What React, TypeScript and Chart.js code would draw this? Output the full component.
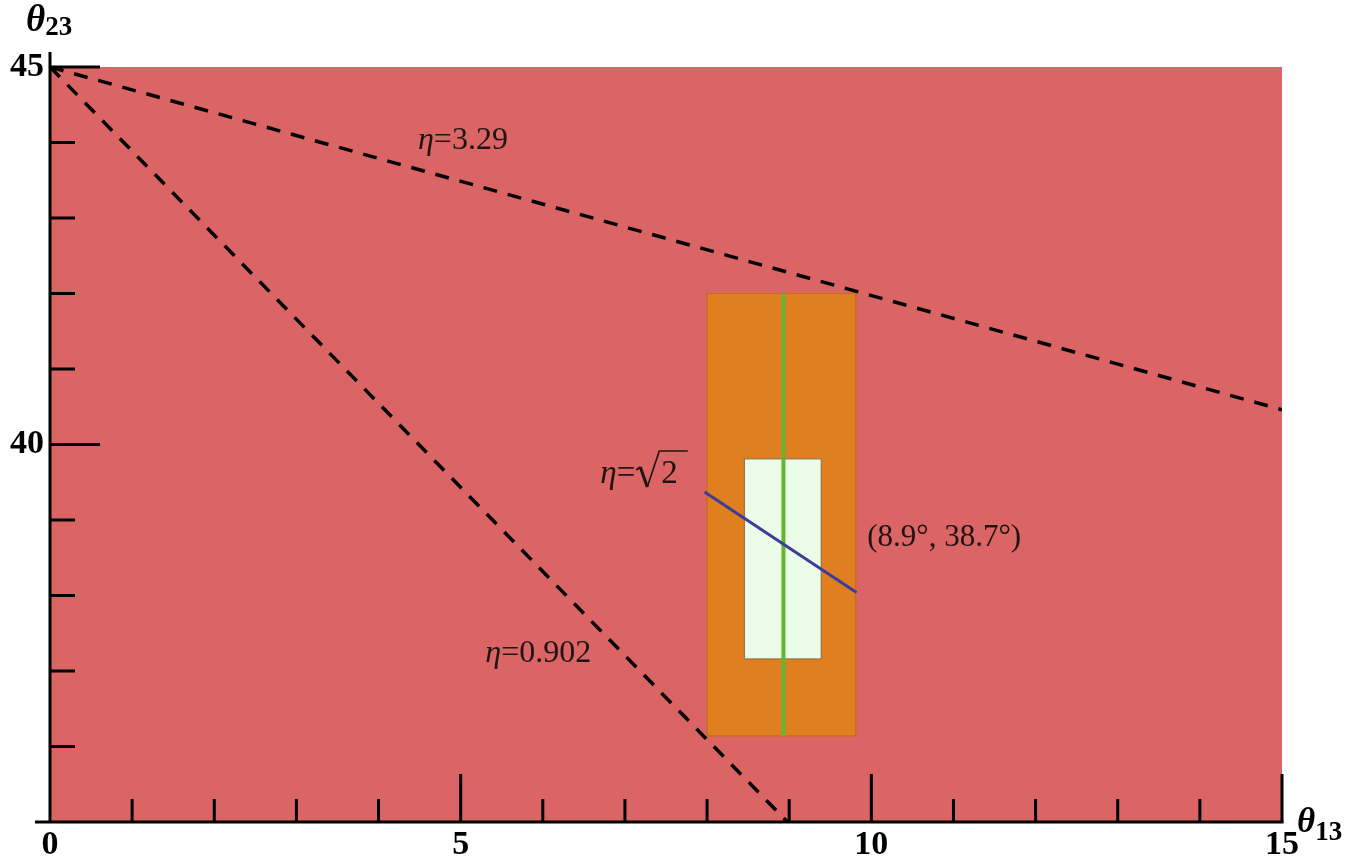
import { useEffect, useRef } from "react";
import { Chart, registerables } from "chart.js";

Chart.register(...registerables);

// ---- axis ranges and tick labels ----
const X_MIN = 0;
const X_MAX = 15;
const Y_MIN = 35;
const Y_MAX = 45;
const xTickLabels = [0, 5, 10, 15];
const yTickLabels = [45, 40];

// ---- data (theta13, theta23) in degrees ----
const eta329Line = [
  { x: 0, y: 45 },
  { x: 15, y: 40.46 },
];
const eta0902Line = [
  { x: 0, y: 45 },
  { x: 8.98, y: 35 },
];
const orangeRectX = [8.0, 9.81];
const orangeRectY = [36.14, 42.0];
const greenRectX = [8.455, 9.39];
const greenRectY = [37.16, 39.81];
const greenLineX = 8.93;
const greenLineY = [36.14, 42.0];
const blueLine = [
  { x: 7.97, y: 39.37 },
  { x: 9.82, y: 38.04 },
];
const bestFitLabel = "(8.9°, 38.7°)";

// annotation anchors (data coordinates, left/baseline)
const labelEta329 = { x: 4.48, y: 43.91, value: "3.29" };
const labelEta0902 = { x: 5.3, y: 37.12, value: "0.902" };
const labelEtaSqrt2 = { x: 6.7, y: 39.49, value: "2" };
const labelBestFit = { x: 9.95, y: 38.66 };

const SERIF = "'Liberation Serif', 'Times New Roman', serif";

function rectTop(xs: number[], ys: number[]) {
  return [
    { x: xs[0], y: ys[1] },
    { x: xs[1], y: ys[1] },
  ];
}
function rectOutline(xs: number[], ys: number[]) {
  return [
    { x: xs[0], y: ys[0] },
    { x: xs[0], y: ys[1] },
    { x: xs[1], y: ys[1] },
    { x: xs[1], y: ys[0] },
    { x: xs[0], y: ys[0] },
  ];
}

type Run = { text: string; font: string; dy?: number; dx?: number };
function drawRuns(ctx: CanvasRenderingContext2D, runs: Run[], x: number, y: number) {
  let cx = x;
  const ends: number[] = [];
  for (const r of runs) {
    cx += r.dx || 0;
    ctx.font = r.font;
    ctx.fillText(r.text, cx, y + (r.dy || 0));
    cx += ctx.measureText(r.text).width;
    ends.push(cx);
  }
  return ends;
}

const overlayPlugin = {
  id: "overlay",
  afterDraw(chart: any) {
    const { ctx, chartArea: a, scales } = chart;
    const xs = scales.x;
    const ys = scales.y;
    ctx.save();
    ctx.strokeStyle = "#000";
    ctx.lineWidth = 3;
    ctx.lineCap = "butt";

    // axis lines
    ctx.beginPath();
    ctx.moveTo(a.left - 15, a.bottom);
    ctx.lineTo(a.right + 1.5, a.bottom);
    ctx.moveTo(a.left, a.bottom + 1.5);
    ctx.lineTo(a.left, a.top - 15);
    ctx.stroke();

    // inward tick marks
    ctx.beginPath();
    xs.ticks.forEach((t: any) => {
      if (t.value === X_MIN) return;
      const px = xs.getPixelForValue(t.value);
      const len = t.value % 5 === 0 ? 48 : 23;
      ctx.moveTo(px, a.bottom);
      ctx.lineTo(px, a.bottom - len);
    });
    ys.ticks.forEach((t: any) => {
      if (t.value === Y_MIN) return;
      const py = ys.getPixelForValue(t.value);
      const len = t.value % 5 === 0 ? 50 : 25;
      ctx.moveTo(a.left, py);
      ctx.lineTo(a.left + len, py);
    });
    ctx.stroke();

    // axis titles
    ctx.fillStyle = "#000";
    ctx.textAlign = "left";
    ctx.textBaseline = "alphabetic";
    drawRuns(
      ctx,
      [
        { text: "θ", font: `italic bold 37px ${SERIF}` },
        { text: "23", font: `bold 27px ${SERIF}`, dy: 4 },
      ],
      a.left - 24,
      a.top - 36
    );
    drawRuns(
      ctx,
      [
        { text: "θ", font: `italic bold 35px ${SERIF}` },
        { text: "13", font: `bold 27px ${SERIF}`, dy: 8 },
      ],
      a.right + 15,
      a.bottom + 10
    );

    // annotations
    ctx.fillStyle = "#1e1414";
    const F = 32;
    const it = `italic ${F}px ${SERIF}`;
    const rg = `${F}px ${SERIF}`;
    drawRuns(
      ctx,
      [
        { text: "η", font: it },
        { text: "=" + labelEta329.value, font: rg },
      ],
      xs.getPixelForValue(labelEta329.x),
      ys.getPixelForValue(labelEta329.y)
    );
    drawRuns(
      ctx,
      [
        { text: "η", font: it },
        { text: "=" + labelEta0902.value, font: rg },
      ],
      xs.getPixelForValue(labelEta0902.x),
      ys.getPixelForValue(labelEta0902.y)
    );
    // eta = sqrt(2) with a drawn radical sign
    const sx = xs.getPixelForValue(labelEtaSqrt2.x);
    const sy = ys.getPixelForValue(labelEtaSqrt2.y);
    const ends = drawRuns(
      ctx,
      [
        { text: "η", font: `italic 33px ${SERIF}` },
        { text: "=", font: `33px ${SERIF}` },
      ],
      sx,
      sy
    );
    const r0 = ends[1] + 1;
    ctx.font = `33px ${SERIF}`;
    const twoX = r0 + 25;
    ctx.fillText(labelEtaSqrt2.value, twoX, sy);
    const twoEnd = twoX + ctx.measureText(labelEtaSqrt2.value).width;
    ctx.strokeStyle = "#1e1414";
    ctx.lineWidth = 2;
    ctx.lineJoin = "miter";
    ctx.beginPath();
    ctx.moveTo(r0, sy - 13);
    ctx.lineTo(r0 + 4, sy - 16);
    ctx.stroke();
    ctx.lineWidth = 3;
    ctx.beginPath();
    ctx.moveTo(r0 + 4, sy - 16);
    ctx.lineTo(r0 + 11, sy + 4);
    ctx.stroke();
    ctx.lineWidth = 1.6;
    ctx.beginPath();
    ctx.moveTo(r0 + 11, sy + 4);
    ctx.lineTo(r0 + 23, sy - 32);
    ctx.lineTo(twoEnd + 10, sy - 32);
    ctx.stroke();

    ctx.font = `31px ${SERIF}`;
    ctx.fillText(
      bestFitLabel,
      xs.getPixelForValue(labelBestFit.x),
      ys.getPixelForValue(labelBestFit.y)
    );
    ctx.restore();
  },
};

export default function App() {
  const ref = useRef<HTMLCanvasElement>(null);

  useEffect(() => {
    const canvas = ref.current;
    if (!canvas) return;
    const tickFont = { family: SERIF, size: 34, weight: "bold" as const };
    const chart = new Chart(canvas, {
      type: "scatter",
      data: {
        datasets: [
          {
            label: "eta sqrt2",
            data: blueLine,
            showLine: true,
            borderColor: "#3B3D9B",
            borderWidth: 3,
            pointRadius: 0,
            fill: false,
          },
          {
            label: "best theta13",
            data: [
              { x: greenLineX, y: greenLineY[1] },
              { x: greenLineX, y: greenLineY[0] },
            ],
            showLine: true,
            borderColor: "#66B531",
            borderWidth: 4,
            pointRadius: 0,
            fill: false,
          },
          {
            label: "eta 3.29",
            data: eta329Line,
            showLine: true,
            borderColor: "#000",
            borderWidth: 3.5,
            borderDash: [14, 11],
            pointRadius: 0,
            fill: false,
          },
          {
            label: "eta 0.902",
            data: eta0902Line,
            showLine: true,
            borderColor: "#000",
            borderWidth: 3.5,
            borderDash: [14, 11],
            pointRadius: 0,
            fill: false,
          },
          {
            label: "1 sigma outline",
            data: rectOutline(greenRectX, greenRectY),
            showLine: true,
            borderColor: "rgba(140,110,70,0.85)",
            borderWidth: 1.2,
            pointRadius: 0,
            fill: false,
          },
          {
            label: "1 sigma",
            data: rectTop(greenRectX, greenRectY),
            showLine: true,
            borderWidth: 0,
            borderColor: "rgba(0,0,0,0)",
            backgroundColor: "#EBFCE8",
            pointRadius: 0,
            fill: { value: greenRectY[0] },
          },
          {
            label: "3 sigma outline",
            data: rectOutline(orangeRectX, orangeRectY),
            showLine: true,
            borderColor: "#C46B1E",
            borderWidth: 1.2,
            pointRadius: 0,
            fill: false,
          },
          {
            label: "3 sigma",
            data: rectTop(orangeRectX, orangeRectY),
            showLine: true,
            borderWidth: 0,
            borderColor: "rgba(0,0,0,0)",
            backgroundColor: "#E07F20",
            pointRadius: 0,
            fill: { value: orangeRectY[0] },
          },
          {
            label: "allowed",
            data: [
              { x: X_MIN, y: Y_MAX },
              { x: X_MAX, y: Y_MAX },
            ],
            showLine: true,
            borderWidth: 0,
            borderColor: "rgba(0,0,0,0)",
            backgroundColor: "#DB6464",
            pointRadius: 0,
            fill: "start",
          },
        ],
      },
      options: {
        animation: false,
        responsive: false,
        maintainAspectRatio: false,
        events: [],
        layout: { padding: { top: 67, right: 90, bottom: 0, left: 0 } },
        plugins: {
          legend: { display: false },
          tooltip: { enabled: false },
        },
        scales: {
          x: {
            type: "linear",
            min: X_MIN,
            max: X_MAX,
            grid: { display: false, drawTicks: false },
            border: { display: false },
            ticks: {
              stepSize: 1,
              autoSkip: false,
              maxRotation: 0,
              padding: 3,
              color: "#000",
              font: tickFont,
              callback: (v: any) => (xTickLabels.includes(Number(v)) ? String(v) : ""),
            },
            afterFit: (s: any) => {
              s.height = 45;
            },
          },
          y: {
            type: "linear",
            min: Y_MIN,
            max: Y_MAX,
            grid: { display: false, drawTicks: false },
            border: { display: false },
            ticks: {
              stepSize: 1,
              autoSkip: false,
              padding: 6,
              color: "#000",
              font: tickFont,
              callback: (v: any) => (yTickLabels.includes(Number(v)) ? String(v) : ""),
            },
            afterFit: (s: any) => {
              s.width = 50;
            },
          },
        },
      },
      plugins: [overlayPlugin],
    });
    return () => chart.destroy();
  }, []);

  return (
    <div
      style={{
        position: "fixed",
        left: 0,
        top: 0,
        width: 1372,
        height: 867,
        background: "#fff",
      }}
    >
      <canvas ref={ref} width={1372} height={867} style={{ display: "block" }} />
    </div>
  );
}
